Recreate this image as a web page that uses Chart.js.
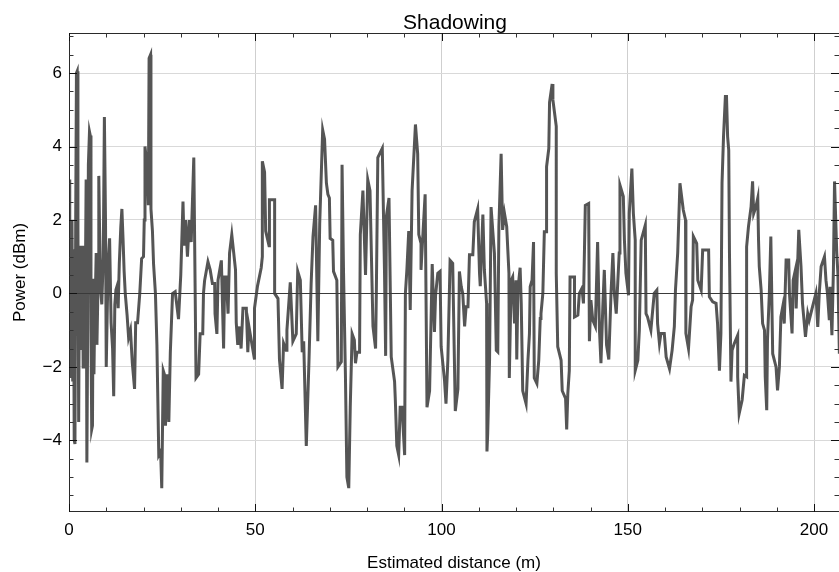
<!DOCTYPE html>
<html>
<head>
<meta charset="utf-8">
<script src="https://cdn.jsdelivr.net/npm/chart.js@4.4.0/dist/chart.umd.min.js"></script>
<style>
  html, body { margin: 0; padding: 0; background: #fff; }
  #wrap { width: 839px; height: 572px; }
</style>
</head>
<body>
<div id="wrap"><canvas id="chart" width="839" height="572"></canvas></div>
<script>
// estimated distance (m) for each sample, in drawing order
const distance = [
  0.1, 0.2, 0.4, 0.6, 0.8, 1.0, 1.2, 1.4, 1.6, 1.8,
  2.0, 2.2, 2.4, 2.6, 2.8, 3.0, 3.2, 3.4, 3.6, 3.8,
  4.0, 4.3, 4.6, 4.8, 5.0, 5.2, 5.5, 5.7, 5.9, 6.1,
  6.3, 6.5, 6.7, 6.9, 7.1, 7.3, 7.5, 7.8, 8.0, 8.2,
  8.5, 8.8, 9.2, 9.5, 9.8, 10.0, 10.3, 10.6, 10.9, 11.3,
  11.7, 12.0, 12.3, 12.6, 12.9, 13.2, 13.5, 13.9, 14.2, 14.5,
  14.8, 15.1, 15.6, 16.0, 16.5, 17.0, 17.6, 17.9, 18.4, 19.0,
  19.5, 20.0, 20.2, 20.4, 20.6, 21.0, 21.3, 21.5, 21.9, 22.0,
  22.4, 22.7, 23.2, 23.6, 24.1, 24.6, 24.9, 25.3, 25.6, 25.9,
  26.4, 26.8, 27.2, 27.8, 28.5, 29.4, 30.0, 30.6, 30.9, 31.3,
  31.8, 32.3, 32.8, 33.5, 34.1, 34.8, 35.2,
  35.9, 36.1, 36.4, 37.3, 37.9, 38.5, 39.1, 39.2, 39.7, 40.0,
  40.9, 41.5, 41.8, 42.2, 42.7, 43.1, 43.7, 44.7, 44.9, 45.3,
  45.8, 46.2, 46.7, 47.6, 48.0, 48.3, 49.8, 49.8, 50.6, 51.6,
  51.9, 51.9, 52.5, 52.8, 53.7, 53.8, 55.2, 55.2, 56.1, 56.5,
  57.2, 57.6, 58.3, 58.5, 59.4, 60.1, 61.0, 61.4, 62.1, 62.6,
  63.0, 63.7, 64.4, 65.0, 65.5, 66.2, 66.8, 67.3, 68.1, 68.6,
  69.1, 69.5, 69.9, 70.1, 70.8, 71.0, 71.9, 72.2, 73.1, 73.3,
  73.7, 74.2, 74.6, 75.1, 75.5, 76.0, 76.6, 76.9, 77.3, 78.0,
  78.2, 78.9, 79.6, 80.2, 80.8, 81.6, 82.3, 82.5, 82.9, 84.1,
  84.7, 85.0, 85.2, 85.9, 86.5, 87.4, 87.6, 88.0, 88.5, 88.9,
  89.4, 90.1, 90.3, 90.7, 91.2, 91.6, 92.1, 93.0, 93.6, 93.9,
  94.5, 94.5, 95.0, 95.6, 96.1, 96.8, 97.5, 98.1, 98.4, 99.0,
  99.6, 99.9, 100.8, 101.2, 101.7, 102.3, 103.0, 103.7, 104.4, 104.8,
  105.3, 105.7, 106.2, 106.6, 107.1, 107.5, 108.4, 108.8, 109.7, 110.2,
  110.4, 111.1, 111.5, 112.1, 112.2, 112.4, 112.9, 113.3, 113.8, 114.2,
  114.7, 115.1, 115.4, 116.0, 116.4, 116.9, 117.5, 117.8, 118.1, 118.2,
  118.7, 119.1, 119.6, 120.0, 120.2, 120.5, 121.1, 121.4, 121.8, 122.7,
  123.2, 123.6, 123.8, 124.3, 124.7, 124.9, 125.6, 126.1, 126.5, 126.7,
  127.2, 127.6, 128.1, 128.2, 128.8, 129.0, 129.7, 129.9, 130.8, 130.8,
  131.2, 132.1, 132.4, 133.3, 133.6, 133.9, 134.3, 134.5, 135.7, 135.7,
  136.6, 137.0, 137.7, 138.1, 138.6, 139.5, 139.7, 140.1, 140.6, 141.3,
  141.9, 142.4, 142.8, 143.3, 143.7, 144.3, 144.9, 145.5, 146.0, 146.4,
  146.9, 147.3, 147.7, 147.9, 148.8, 149.1, 149.5, 150.2, 150.4, 151.1,
  151.5, 152.0, 152.0, 152.7, 153.1, 153.6, 154.7, 154.9, 155.3, 156.2,
  157.1, 157.8, 158.0, 158.5, 158.9, 159.8, 160.3, 161.2, 161.9, 162.5,
  162.8, 163.4, 164.0, 164.9, 165.5, 165.6, 165.6, 166.3, 167.0, 167.4,
  167.6, 168.5, 168.8, 169.7, 170.1, 171.7, 171.9, 172.8, 173.7, 174.1,
  174.6, 175.0, 175.3, 175.7, 176.2, 176.5, 176.8, 177.1, 177.3, 177.7,
  178.0, 178.6, 179.5, 179.5, 179.9, 180.7, 181.3, 181.9, 181.9, 182.4,
  183.1, 183.5, 183.8, 184.4, 184.9, 185.1, 185.3, 185.8, 186.2, 186.7,
  186.9, 187.3, 187.5, 188.0, 188.4, 188.9, 189.8, 190.2, 190.7, 191.1,
  191.6, 192.0, 192.5, 193.2, 193.4, 194.1, 194.4, 195.0, 195.2, 195.9,
  196.5, 196.9, 197.7, 198.3, 198.7, 199.6, 200.5, 201.0, 201.4, 201.9,
  202.8, 203.2, 203.6, 204.1, 204.3, 204.8, 205.2, 205.5, 206.1, 206.4,
  206.8
];

// shadowing power (dBm) for each sample
const power = [
  3.1, -2.3, 1.9, -1.5, 2.0, -2.4, 1.2, -4.0, -4.1, 2.0,
  6.0, 6.05, 1.8, -3.5, 1.0, -1.5, 1.3, -0.5, 1.2, -2.0,
  1.3, -1.0, 3.1, -4.6, -1.2, 3.5, 4.4, 4.3, -1.0, -3.7,
  -3.6, 0.4, -2.2, -0.5, 0.1, 1.1, -1.4, 0.3, 3.2, 1.8,
  0.1, -0.3, 1.0, 4.8, 2.0, -2.0, -0.3, 1.0, 1.5, -0.8,
  -1.5, -2.8, -0.3, 0.1, 0.2, -0.4, 0.8, 1.8, 2.3, 1.5,
  0.6, 0.0, -0.6, -1.2, -1.0, -1.9, -2.6, -0.8, -0.8, 0.0,
  0.95, 1.0, 2.0, 4.0, 3.8, 3.3, 2.4, 6.4, 6.5, 2.3,
  1.7, 0.8, 0.0, -1.4, -4.4, -4.3, -5.3, -2.1, -2.2, -3.6,
  -2.2, -3.5, -1.6, 0.0, 0.05, -0.7, 0.5, 2.5, 1.3, 2.0,
  1.0, 2.0, 1.4, 3.7, -2.3, -2.2, -1.1,
  -1.1, 0.0, 0.35, 0.86, 0.64, 0.27, 0.27, -0.55, -1.1, 0.36,
  0.9, -1.5, 0.45, 0.45, -0.55, 1.1, 1.6, 0.64, -0.8, -1.4,
  -0.9, -1.5, -0.4, -0.4, -1.6, -0.9, -1.8, -0.4, 0.2, 0.7,
  1.0, 3.6, 3.3, 1.7, 1.3, 2.55, 2.55, 0.0, -0.14, -1.8,
  -2.6, -1.36, -1.55, -1.0, 0.3, -1.3, -1.1, 0.6, 0.36, -1.6,
  -1.3, -4.15, -1.9, 0.27, 1.55, 2.4, -1.3, 1.9, 4.45, 4.2,
  3.0, 2.7, 2.6, 1.5, 1.45, 0.6, 0.36, -2.0, -1.86, 3.5,
  0.55, -2.2, -5.0, -5.3, -3.1, -1.1, -1.27, -1.9, -1.6, -1.6,
  1.6, 2.8, 0.5, 3.1, 2.8, -0.9, -1.5, 0.0, 3.7, 3.95,
  0.55, -1.7, 2.1, 2.6, -1.73, -2.4, -2.9, -4.15, -4.4, -3.1,
  -3.1, -4.4, 0.0, 0.64, 1.7, -0.45, 2.8, 4.6, 3.8, 1.6,
  1.36, 0.64, 1.6, 2.7, -3.1, -2.65, 0.8, -1.05, -0.05, 0.55,
  0.6, -1.45, -2.36, -3.0, -1.82, 0.9, 0.82, -3.2, -2.6, 0.6,
  0.18, 0.0, -0.9, -0.36, -0.36, 1.05, 1.05, 1.95, 2.3, 0.55,
  0.2, 2.15, 0.64, -0.27, -4.3, -3.8, -1.8, 2.35, 1.64, 1.09,
  -1.55, -1.59, 1.82, 3.8, 1.73, 2.18, 1.82, 1.18, 0.55, -2.3,
  0.36, 0.45, -0.82, 0.36, -1.8, 0.1, 0.7, -0.27, -2.65, -3.0,
  -1.82, -1.1, 0.18, 0.36, 1.4, -2.3, -2.45, -1.82, -0.68, -0.55,
  0.0, 1.68, 1.68, 3.45, 3.95, 5.2, 5.7, 5.27, 4.55, 0.55,
  -1.45, -1.82, -2.65, -2.86, -3.7, -2.73, -2.1, 0.45, 0.45, -0.64,
  -0.59, 0.0, 0.14, -0.27, 2.4, 2.45, -1.3, -0.18, -0.73, -0.9,
  1.4, -1.0, -1.9, -0.36, 0.64, -1.4, -1.8, 0.0, 1.1, 0.0,
  -0.55, 0.27, 1.1, 2.95, 2.64, 1.45, 0.55, -0.05, 2.18, 3.4,
  2.18, 1.45, -2.1, -1.82, -1.0, 1.45, 1.86, -0.55, -0.64, -1.0,
  0.0, 0.09, -0.82, -1.36, -1.09, -1.09, -1.73, -2.05, -1.55, -0.9,
  0.09, 1.1, 3.0, 2.27, 2.0, 0.55, -1.09, -1.5, -0.36, -0.18,
  1.55, 1.36, 0.36, 0.09, 1.18, 1.18, -0.09, -0.23, -0.27, -0.82,
  -2.1, -1.09, 3.0, 4.27, 5.36, 5.36, 4.27, 3.9, 1.09, -2.4,
  -1.55, -1.36, -1.14, -2.27, -3.27, -2.9, -2.23, -2.27, 1.27, 1.82,
  2.36, 3.05, 2.18, 2.36, 2.6, 1.45, 0.73, 0.09, -0.82, -1.0,
  -2.27, -3.18, -1.27, 0.0, 1.55, -1.64, -2.0, -2.64, -2.0, -0.64,
  -0.36, -0.82, 0.91, 0.91, 0.0, -1.09, 0.36, 0.64, -0.41, 1.73,
  0.73, -0.27, -1.18, -0.55, -0.73, -0.36, 0.0, -0.91, 0.0, 0.73,
  1.0, 0.36, 0.0, -0.73, 0.18, -1.14, 0.64, 3.05, 1.09, 0.55,
  -1.64
];

const xTicks = [0, 50, 100, 150, 200];
const yTicks = [-4, -2, 0, 2, 4, 6];
const xRange = [0, 206.7];
const yRange = [-5.95, 7.09];

const chartTitle = 'Shadowing';
const xTitle = 'Estimated distance (m)';
const yTitle = 'Power (dBm)';

if (distance.length !== power.length) {
  console.error('distance/power length mismatch', distance.length, power.length);
}

const points = distance.map((d, i) => ({ x: d, y: power[i] }));

function fmtTick(v) {
  return v < 0 ? '\u2212' + Math.abs(v) : String(v);
}

// frame, zero line and inward tick marks, drawn on top of the data like the original.
// the title is centred over the plot box, not the whole canvas
const framePlugin = {
  id: 'frame',
  afterDatasetsDraw(chart) {
    const { ctx, chartArea: a, scales } = chart;
    const x = scales.x, y = scales.y;
    ctx.save();
    ctx.lineWidth = 1;

    const y0 = Math.round(y.getPixelForValue(0)) + 0.5;
    ctx.strokeStyle = '#3a3a3a';
    ctx.beginPath();
    ctx.moveTo(a.left, y0);
    ctx.lineTo(a.right, y0);
    ctx.stroke();

    ctx.strokeStyle = '#2a2a2a';
    ctx.beginPath();
    ctx.moveTo(a.left + 0.5, a.bottom);
    ctx.lineTo(a.left + 0.5, a.top);
    ctx.moveTo(a.left, a.top + 0.5);
    ctx.lineTo(a.right, a.top + 0.5);
    ctx.moveTo(a.left, a.bottom - 0.5);
    ctx.lineTo(a.right, a.bottom - 0.5);
    ctx.stroke();

    for (let v = 0; v <= x.max; v += 10) {
      const major = v % 50 === 0;
      const len = major ? 8 : 4.5;
      const px = Math.round(x.getPixelForValue(v)) + 0.5;
      ctx.strokeStyle = major ? '#111' : '#333';
      ctx.beginPath();
      ctx.moveTo(px, a.bottom);
      ctx.lineTo(px, a.bottom - len);
      ctx.moveTo(px, a.top);
      ctx.lineTo(px, a.top + len);
      ctx.stroke();
    }
    for (let v = -5.5; v <= y.max; v += 0.5) {
      const major = Math.abs(v % 2) < 1e-9;
      const len = major ? 8 : 4.5;
      const py = Math.round(y.getPixelForValue(v)) + 0.5;
      ctx.strokeStyle = major ? '#111' : '#333';
      ctx.beginPath();
      ctx.moveTo(a.left, py);
      ctx.lineTo(a.left + len, py);
      ctx.moveTo(a.right, py);
      ctx.lineTo(a.right - len, py);
      ctx.stroke();
    }

    ctx.fillStyle = '#000';
    ctx.font = "21px 'Liberation Sans', Arial, sans-serif";
    ctx.textAlign = 'center';
    ctx.textBaseline = 'alphabetic';
    ctx.fillText(chartTitle, (a.left + a.right) / 2 + 1, 29);
    ctx.restore();
  }
};

Chart.defaults.font.family = "'Liberation Sans', Arial, sans-serif";
Chart.defaults.color = '#000';

new Chart(document.getElementById('chart'), {
  type: 'scatter',
  data: {
    datasets: [{
      data: points,
      showLine: true,
      borderColor: '#555555',
      borderWidth: 3,
      pointRadius: 0,
      pointHoverRadius: 0,
      tension: 0,
      fill: false
    }]
  },
  options: {
    responsive: false,
    animation: false,
    events: [],
    layout: { padding: { top: 33, left: 0, right: 0, bottom: 0 } },
    plugins: {
      legend: { display: false },
      tooltip: { enabled: false },
      title: { display: false }
    },
    scales: {
      x: {
        type: 'linear',
        min: xRange[0],
        max: xRange[1],
        afterBuildTicks: s => { s.ticks = xTicks.map(v => ({ value: v })); },
        afterFit: s => { s.height = 60; },
        border: { display: false },
        grid: {
          drawTicks: false,
          lineWidth: 1,
          color: c => (c.tick && c.tick.value === 0) ? 'rgba(0,0,0,0)' : '#cfcfcf'
        },
        ticks: {
          padding: 8,
          color: '#000',
          font: { size: 17 },
          maxRotation: 0,
          autoSkip: false,
          callback: v => fmtTick(v)
        },
        title: {
          display: true,
          text: xTitle,
          color: '#000',
          font: { size: 17, lineHeight: 1.0 },
          padding: { top: 0, bottom: 0 }
        }
      },
      y: {
        type: 'linear',
        min: yRange[0],
        max: yRange[1],
        afterBuildTicks: s => { s.ticks = yTicks.map(v => ({ value: v })); },
        afterFit: s => { s.width = 69; },
        border: { display: false },
        grid: {
          drawTicks: false,
          lineWidth: 1,
          color: c => (c.tick && c.tick.value === 0) ? 'rgba(0,0,0,0)' : '#d9d9d9'
        },
        ticks: {
          padding: 7,
          color: '#000',
          font: { size: 17 },
          autoSkip: false,
          callback: v => fmtTick(v)
        },
        title: {
          display: true,
          text: yTitle,
          color: '#000',
          font: { size: 17 },
          padding: { top: 10, bottom: 0 }
        }
      }
    }
  },
  plugins: [framePlugin]
});
</script>
</body>
</html>
